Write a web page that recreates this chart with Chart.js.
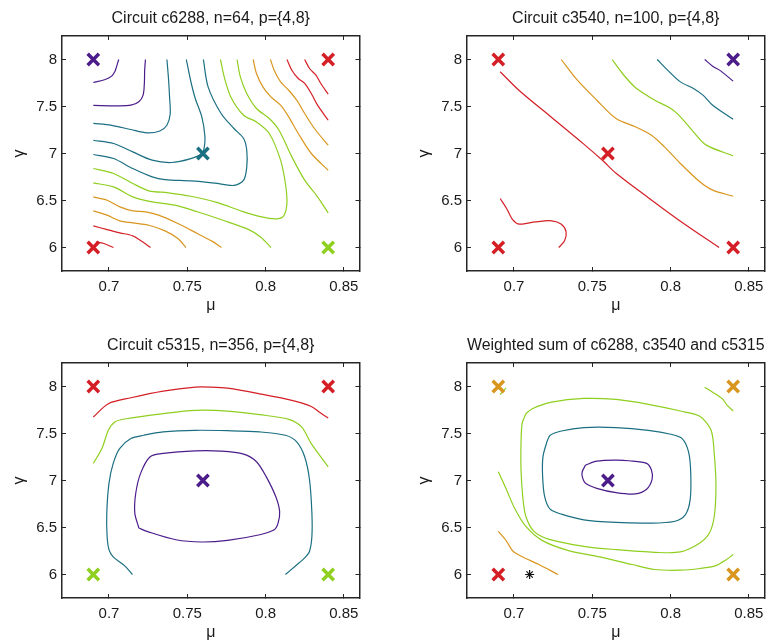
<!DOCTYPE html>
<html>
<head>
<meta charset="utf-8">
<title>Contours</title>
<script src="https://cdn.jsdelivr.net/npm/chart.js@4.4.0/dist/chart.umd.min.js"></script>
<style>
    body { margin: 0; background: #fff; width: 776px; height: 641px; overflow: hidden; position: relative; }
    canvas { position: absolute; }
</style>
</head>
<body>
<canvas id="c6288" width="371" height="314" style="left:0;top:0"></canvas>
<canvas id="c3540" width="371" height="314" style="left:405px;top:0"></canvas>
<canvas id="c5315" width="371" height="314" style="left:0;top:327px"></canvas>
<canvas id="csum" width="371" height="314" style="left:405px;top:327px"></canvas>
<script>
const muTicks = [0.7, 0.75, 0.8, 0.85];
const muLabels = ["0.7", "0.75", "0.8", "0.85"];
const gammaTicks = [6, 6.5, 7, 7.5, 8];
const gammaLabels = ["6", "6.5", "7", "7.5", "8"];

// the five (mu, gamma) settings that were run
const designMu = [0.69, 0.84, 0.76, 0.69, 0.84];
const designGamma = [8, 8, 7, 6, 6];

// contour level colours, lowest to highest
const levelColors = ["#4b1c8a", "#1b6f82", "#8fcf1f", "#d9961f", "#d41f26"];

// level of each setting, per circuit
const c6288Marks = [0, 4, 1, 4, 2];
const c3540Marks = [4, 0, 4, 4, 4];
const c5315Marks = [4, 4, 0, 2, 2];
const sumMarks = [3, 3, 0, 4, 3];

// best point of the weighted sum
const sumBest = [[0.71, 6]];

// contour lines: [level, [[mu, gamma], ...]]
const c6288Lines = [
    [0, [[0.69, 7.755], [0.6976, 7.787], [0.7017, 7.823], [0.7037, 7.869], [0.7048, 7.922], [0.7062, 8.0]]],
    [0, [[0.69, 7.511], [0.7058, 7.507], [0.714, 7.514], [0.7191, 7.55], [0.7218, 7.621], [0.7226, 7.745], [0.7228, 7.887], [0.7233, 8.0]]],
    [1, [[0.69, 7.32], [0.7017, 7.3], [0.714, 7.255], [0.7243, 7.22], [0.7325, 7.24], [0.737, 7.3], [0.7391, 7.42], [0.7387, 7.6], [0.738, 7.8], [0.737, 8.0]]],
    [1, [[0.69, 7.141], [0.7029, 7.106], [0.7152, 7.017], [0.7276, 6.929], [0.7399, 6.904], [0.7523, 6.946], [0.7595, 7.0], [0.7608, 7.06], [0.7613, 7.18], [0.7593, 7.389], [0.7551, 7.585], [0.7525, 7.75], [0.7494, 8.0]]],
    [1, [[0.69, 6.989], [0.7029, 6.947], [0.7152, 6.84], [0.7276, 6.752], [0.7358, 6.723], [0.7523, 6.709], [0.7675, 6.685], [0.7798, 6.66], [0.786, 6.716], [0.788, 6.857], [0.788, 7.035], [0.786, 7.16], [0.7798, 7.266], [0.7716, 7.426], [0.7633, 7.709], [0.7603, 8.0]]],
    [2, [[0.69, 6.84], [0.7029, 6.787], [0.7152, 6.681], [0.7255, 6.603], [0.7379, 6.582], [0.7523, 6.545], [0.7687, 6.48], [0.7852, 6.385], [0.7975, 6.325], [0.806, 6.305], [0.811, 6.325], [0.8131, 6.4], [0.8137, 6.503], [0.8127, 6.681], [0.8096, 6.929], [0.8024, 7.213], [0.7942, 7.336], [0.786, 7.407], [0.7778, 7.602], [0.7736, 7.815], [0.7712, 8.0]]],
    [2, [[0.69, 6.687], [0.7029, 6.645], [0.7152, 6.539], [0.7276, 6.486], [0.742, 6.45], [0.7564, 6.38], [0.7728, 6.29], [0.7893, 6.19], [0.797, 6.11], [0.8035, 6.0]]],
    [3, [[0.69, 6.538], [0.6988, 6.503], [0.707, 6.432], [0.7152, 6.39], [0.7235, 6.379], [0.7317, 6.344], [0.744, 6.255], [0.7564, 6.149], [0.7666, 6.06], [0.7718, 6.0]]],
    [3, [[0.69, 6.39], [0.6988, 6.344], [0.707, 6.284], [0.7152, 6.262], [0.7255, 6.237], [0.7358, 6.177], [0.744, 6.096], [0.7492, 6.0]]],
    [4, [[0.69, 6.23], [0.6988, 6.191], [0.707, 6.156], [0.7152, 6.124], [0.7214, 6.06], [0.7265, 6.0]]],
    [4, [[0.6916, 6.06], [0.6967, 6.043], [0.7029, 6.0]]],
    [2, [[0.7818, 8.0], [0.7839, 7.815], [0.788, 7.638], [0.7942, 7.479], [0.8024, 7.372], [0.8086, 7.248], [0.8168, 6.964], [0.825, 6.716], [0.8332, 6.538], [0.84, 6.368]]],
    [3, [[0.7921, 8.0], [0.7942, 7.851], [0.7983, 7.709], [0.8034, 7.602], [0.8096, 7.514], [0.8148, 7.389], [0.8209, 7.213], [0.8292, 7.0], [0.84, 6.822]]],
    [3, [[0.8031, 8.0], [0.8055, 7.886], [0.8096, 7.762], [0.8148, 7.673], [0.8199, 7.567], [0.825, 7.426], [0.8312, 7.266], [0.84, 7.088]]],
    [4, [[0.8137, 8.0], [0.8168, 7.886], [0.8209, 7.798], [0.825, 7.745], [0.8292, 7.638], [0.8332, 7.514], [0.84, 7.354]]],
    [4, [[0.825, 8.0], [0.8281, 7.904], [0.8322, 7.833], [0.8353, 7.745], [0.84, 7.631]]]
];

const c3540Lines = [
    [4, [[0.6912, 7.87], [0.7035, 7.667], [0.7241, 7.383], [0.7446, 7.1], [0.757, 6.92], [0.7652, 6.79], [0.7858, 6.53], [0.8063, 6.28], [0.831, 6.0]]],
    [4, [[0.6912, 6.521], [0.6953, 6.415], [0.6994, 6.291], [0.7035, 6.248], [0.7138, 6.273], [0.7241, 6.284], [0.7303, 6.248], [0.7333, 6.167], [0.7323, 6.071], [0.7286, 6.0]]],
    [3, [[0.7302, 8.0], [0.7405, 7.78], [0.7529, 7.567], [0.7652, 7.372], [0.7775, 7.284], [0.7878, 7.195], [0.7961, 7.071], [0.8063, 6.894], [0.8187, 6.699], [0.8269, 6.61], [0.84, 6.545]]],
    [2, [[0.7627, 8.0], [0.7693, 7.851], [0.7775, 7.702], [0.7899, 7.567], [0.8002, 7.479], [0.8063, 7.39], [0.8146, 7.23], [0.8228, 7.089], [0.84, 6.975]]],
    [1, [[0.7915, 8.0], [0.7981, 7.887], [0.8063, 7.762], [0.8146, 7.691], [0.8207, 7.621], [0.8269, 7.514], [0.84, 7.365]]],
    [0, [[0.8218, 8.0], [0.8269, 7.929], [0.832, 7.879], [0.84, 7.77]]]
];

const c5315Lines = [
    [4, [[0.69, 7.675], [0.6996, 7.817], [0.714, 7.88], [0.7346, 7.951], [0.7551, 7.993], [0.7654, 7.993], [0.7757, 7.982], [0.7963, 7.922], [0.8168, 7.852], [0.8292, 7.788], [0.8343, 7.728], [0.84, 7.665]]],
    [2, [[0.69, 7.182], [0.6955, 7.34], [0.6996, 7.534], [0.7037, 7.623], [0.7099, 7.654], [0.7346, 7.711], [0.7551, 7.746], [0.7757, 7.739], [0.7963, 7.7], [0.8148, 7.651], [0.823, 7.57], [0.8292, 7.393], [0.84, 7.146]]],
    [1, [[0.715, 6.0], [0.7099, 6.095], [0.7027, 6.187], [0.7, 6.265], [0.6988, 6.406], [0.6986, 6.653], [0.7, 6.97], [0.7027, 7.182], [0.7068, 7.34], [0.714, 7.446], [0.7222, 7.481], [0.7346, 7.517], [0.7551, 7.534], [0.7757, 7.53], [0.7963, 7.517], [0.8127, 7.481], [0.8199, 7.411], [0.825, 7.252], [0.8281, 7.005], [0.8296, 6.653], [0.8296, 6.406], [0.8281, 6.247], [0.825, 6.176], [0.8189, 6.088], [0.8127, 6.0]]],
    [0, [[0.7191, 6.494], [0.7165, 6.653], [0.7171, 6.864], [0.7202, 7.076], [0.7263, 7.252], [0.7346, 7.288], [0.7551, 7.315], [0.7716, 7.312], [0.786, 7.28], [0.7942, 7.199], [0.8004, 7.041], [0.8065, 6.829], [0.809, 6.67], [0.808, 6.547], [0.8055, 6.476], [0.7963, 6.423], [0.7757, 6.363], [0.7592, 6.346], [0.7428, 6.37], [0.7243, 6.459], [0.7191, 6.494]]]
];

const sumLines = [
    [2, [[0.7076, 7.711], [0.7052, 7.605], [0.7045, 7.393], [0.7045, 7.111], [0.7056, 6.829], [0.7076, 6.617], [0.7128, 6.459], [0.722, 6.377], [0.7446, 6.3], [0.7652, 6.265], [0.7899, 6.236], [0.8063, 6.24], [0.8187, 6.335], [0.8248, 6.441], [0.8279, 6.617], [0.829, 6.935], [0.8279, 7.287], [0.8259, 7.534], [0.8187, 7.683], [0.8063, 7.739], [0.7858, 7.81], [0.7652, 7.862], [0.7446, 7.873], [0.7241, 7.834], [0.7117, 7.764], [0.7076, 7.711]]],
    [2, [[0.69, 7.093], [0.6953, 6.899], [0.7004, 6.705], [0.7076, 6.511], [0.7179, 6.363], [0.7344, 6.257], [0.7549, 6.187], [0.7755, 6.106], [0.7899, 6.053], [0.8063, 6.046], [0.8187, 6.064], [0.829, 6.095], [0.8351, 6.152], [0.84, 6.212]]],
    [2, [[0.6912, 7.915], [0.695, 7.985]]],
    [2, [[0.8218, 7.993], [0.8269, 7.94], [0.8331, 7.869], [0.8362, 7.799], [0.84, 7.739]]],
    [3, [[0.69, 6.459], [0.6953, 6.353], [0.6994, 6.247], [0.7056, 6.187], [0.7159, 6.106], [0.7282, 6.0]]],
    [1, [[0.721, 7.411], [0.7185, 7.252], [0.7183, 7.041], [0.7196, 6.829], [0.7231, 6.695], [0.7303, 6.642], [0.7446, 6.582], [0.7652, 6.554], [0.7858, 6.547], [0.8022, 6.564], [0.8094, 6.635], [0.8125, 6.794], [0.8129, 7.076], [0.8115, 7.305], [0.8074, 7.446], [0.8002, 7.492], [0.7858, 7.534], [0.7652, 7.563], [0.7446, 7.563], [0.7303, 7.527], [0.7231, 7.481], [0.721, 7.411]]],
    [0, [[0.7457, 7.164], [0.7436, 7.093], [0.7436, 7.041], [0.7457, 6.97], [0.7529, 6.917], [0.7652, 6.871], [0.7775, 6.857], [0.7847, 6.907], [0.7882, 7.012], [0.7878, 7.111], [0.7847, 7.182], [0.7734, 7.21], [0.7652, 7.217], [0.7529, 7.206], [0.7457, 7.164]]]
];

const fontFamily = "'Liberation Sans', Arial, sans-serif";
const ink = "#1a1a1a";
const frame = "#262626";

function toXY(pts) {
    return pts.map(p => ({ x: p[0], y: p[1] }));
}

// one axis of the box; labelled ones sit bottom/left, the others only carry ticks
function boxAxis(horizontal, position, labelled, title) {
    let values = horizontal ? muTicks : gammaTicks;
    let labels = horizontal ? muLabels : gammaLabels;
    return {
        type: "linear",
        position: position,
        min: horizontal ? 0.67 : 5.75,
        max: horizontal ? 0.86 : 8.25,
        afterBuildTicks: scale => {
            scale.ticks = values.map(v => ({ value: v }));
        },
        afterFit: scale => {
            if (horizontal) scale.height = labelled ? 43 : 0;
            else scale.width = labelled ? 62 : 0;
        },
        ticks: {
            display: labelled,
            autoSkip: false,
            maxRotation: 0,
            padding: horizontal ? 10.5 : 9,
            color: ink,
            font: { family: fontFamily, size: 15 },
            callback: (v, i) => labels[i]
        },
        grid: { drawOnChartArea: false, drawTicks: true, tickLength: -4, color: frame, lineWidth: 1 },
        border: { display: true, color: frame, width: 1.5 },
        title: {
            display: labelled,
            text: title,
            color: ink,
            font: { family: fontFamily, size: 16, lineHeight: 1 },
            padding: horizontal ? { top: 0, bottom: 0 } : { top: 12, bottom: 0 }
        }
    };
}

function makeChart(id, title, lines, marks, best) {
    let datasets = [];

    // markers go first so they are drawn over the contours
    for (let lvl = 0; lvl < levelColors.length; lvl++) {
        let pts = [];
        for (let i = 0; i < marks.length; i++) {
            if (marks[i] === lvl) pts.push([designMu[i], designGamma[i]]);
        }
        if (pts.length === 0) continue;
        datasets.push({
            data: toXY(pts),
            showLine: false,
            pointStyle: "crossRot",
            pointRadius: 8,
            pointBorderWidth: 3.5,
            pointBorderColor: levelColors[lvl],
            pointBackgroundColor: levelColors[lvl]
        });
    }

    if (best) {
        datasets.push({
            data: toXY(best),
            showLine: false,
            pointStyle: "star",
            pointRadius: 4.5,
            pointBorderWidth: 1.2,
            pointBorderColor: "#111",
            pointBackgroundColor: "#111"
        });
    }

    lines.forEach(line => {
        datasets.push({
            data: toXY(line[1]),
            showLine: true,
            borderColor: levelColors[line[0]],
            borderWidth: 1.2,
            pointRadius: 0,
            tension: 0.3,
            fill: false
        });
    });

    return new Chart(document.getElementById(id), {
        type: "scatter",
        data: { datasets: datasets },
        options: {
            responsive: false,
            animation: false,
            events: [],
            layout: { padding: { left: 0, top: 0, right: 1, bottom: 0 } },
            plugins: {
                legend: { display: false },
                tooltip: { enabled: false },
                title: {
                    display: true,
                    text: title,
                    fullSize: false,
                    color: ink,
                    font: { family: fontFamily, size: 16, weight: "normal" },
                    padding: { top: 8.7, bottom: 8.1 }
                }
            },
            scales: {
                x: boxAxis(true, "bottom", true, "μ"),
                y: boxAxis(false, "left", true, "γ"),
                x2: boxAxis(true, "top", false, ""),
                y2: boxAxis(false, "right", false, "")
            }
        }
    });
}

makeChart("c6288", "Circuit c6288, n=64, p={4,8}", c6288Lines, c6288Marks);
makeChart("c3540", "Circuit c3540, n=100, p={4,8}", c3540Lines, c3540Marks);
makeChart("c5315", "Circuit c5315, n=356, p={4,8}", c5315Lines, c5315Marks);
makeChart("csum", "Weighted sum of c6288, c3540 and c5315", sumLines, sumMarks, sumBest);
</script>
</body>
</html>
